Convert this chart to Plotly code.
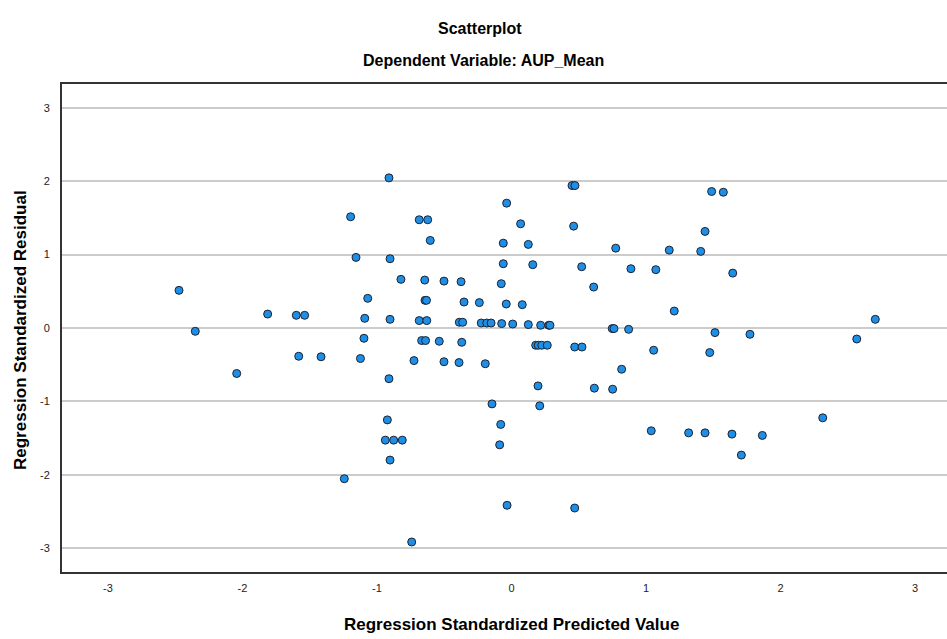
import plotly.graph_objects as go

# Regression standardized predicted values (x) and residuals (y)
pred = [-2.472, -2.351, -2.043, -1.813, -1.600, -1.538, -1.582, -1.416, -1.196, -1.156,
        -1.243, -1.123, -1.091, -1.097, -1.069, -0.911, -0.903, -0.903, -0.911, -0.822,
        -0.645, -0.502, -0.375, -0.686, -0.623, -0.604, -0.643, -0.632, -0.686, -0.630,
        -0.668, -0.639, -0.537, -0.725, -0.502, -0.390, -0.195, -0.388, -0.363, -0.353,
        -0.239, -0.370, -0.225, -0.184, -0.152, -0.073, 0.009, 0.125, 0.217, 0.277,
        0.286, -0.076, -0.039, 0.080, -0.061, -0.061, 0.125, 0.158, -0.036, 0.068,
        0.450, 0.472, 0.462, 0.522, 0.611, 0.775, 0.888, 1.073, 0.749, 0.762,
        0.871, 0.180, 0.199, 0.225, 0.266, 0.470, 0.524, 1.057, 0.819, 0.197,
        0.616, 0.752, -0.145, 0.210, -0.923, -0.938, -0.876, -0.812, -0.903, -0.080,
        -0.088, -0.033, 0.470, -0.742, 1.039, 1.488, 1.575, 1.439, 1.173, 1.407,
        1.645, 1.210, 2.705, 1.513, 1.773, 2.567, 1.474, 1.317, 1.439, 1.639,
        1.865, 1.709, 2.314]
resid = [0.513, -0.045, -0.620, 0.190, 0.173, 0.173, -0.385, -0.392, 1.516, 0.962,
         -2.054, -0.416, 0.132, -0.140, 0.404, 2.046, 0.944, 0.118, -0.691, 0.663,
         0.653, 0.639, 0.631, 1.475, 1.475, 1.193, 0.377, 0.377, 0.101, 0.101,
         -0.171, -0.171, -0.181, -0.444, -0.460, -0.471, -0.487, 0.078, 0.078, 0.354,
         0.346, -0.195, 0.068, 0.068, 0.068, 0.060, 0.054, 0.046, 0.037, 0.037,
         0.037, 0.604, 0.327, 0.318, 1.156, 0.876, 1.139, 0.863, 1.701, 1.420,
         1.941, 1.941, 1.388, 0.835, 0.558, 1.088, 0.808, 0.795, -0.008, -0.008,
         -0.018, -0.235, -0.235, -0.235, -0.235, -0.259, -0.259, -0.303, -0.562, -0.789,
         -0.820, -0.834, -1.034, -1.061, -1.252, -1.528, -1.528, -1.528, -1.800, -1.314,
         -1.592, -2.416, -2.453, -2.916, -1.401, 1.860, 1.850, 1.316, 1.061, 1.044,
         0.748, 0.231, 0.118, -0.063, -0.086, -0.150, -0.335, -1.429, -1.429, -1.446,
         -1.464, -1.732, -1.224]

tick_vals = [-3, -2, -1, 0, 1, 2, 3]
tick_text = ["-3", "-2", "-1", "0", "1", "2", "3"]

title_text = "Scatterplot"
subtitle_text = "Dependent Variable: AUP_Mean"
x_title = "Regression Standardized Predicted Value"
y_title = "Regression Standardized Residual"

W, H = 947, 639
L, R, T, B = 62, 0, 84, 67
PW, PH = W - L - R, H - T - B
FONT = "Liberation Sans, Arial, sans-serif"

fig = go.Figure()
fig.add_trace(go.Scatter(
    x=pred, y=resid, mode="markers",
    marker=dict(size=8, color="#1f8fe6", line=dict(color="#1b2233", width=1)),
    hoverinfo="x+y", showlegend=False,
))

fig.update_layout(
    width=W, height=H,
    margin=dict(l=L, r=R, t=T, b=B, pad=0),
    paper_bgcolor="white", plot_bgcolor="white",
    font=dict(family=FONT, color="#222222"),
    xaxis=dict(
        range=[-3.342, 3.238], tickvals=tick_vals, ticktext=tick_text,
        showgrid=False, zeroline=False, showline=True, linecolor="#333333",
        linewidth=2, mirror=True, ticks="", tickfont=dict(size=11, color="#222222"),
        ticklabelstandoff=5,
    ),
    yaxis=dict(
        range=[-3.325, 3.325], tickvals=tick_vals, ticktext=tick_text,
        showgrid=True, gridcolor="#cccccc", gridwidth=1.5,
        zeroline=False, showline=True, linecolor="#333333", linewidth=2,
        ticks="", tickfont=dict(size=11, color="#222222"), ticklabelstandoff=8,
    ),
)

def px_x(p):
    return (p - L) / PW

def px_y(p):
    return (H - B - p) / PH

anns = [
    dict(text=title_text, x=px_x(480), y=px_y(28), size=16),
    dict(text=subtitle_text, x=px_x(483), y=px_y(61), size=16),
    dict(text=x_title, x=px_x(511.5), y=px_y(624), size=17),
]
for a in anns:
    fig.add_annotation(
        text="<b>%s</b>" % a["text"], xref="paper", yref="paper",
        x=a["x"], y=a["y"], xanchor="center", yanchor="middle",
        showarrow=False, font=dict(size=a["size"], color="#000000", family=FONT),
    )
fig.add_annotation(
    text="<b>%s</b>" % y_title, xref="paper", yref="paper",
    x=px_x(20), y=px_y(330), xanchor="center", yanchor="middle", textangle=-90,
    showarrow=False, font=dict(size=17, color="#000000", family=FONT),
)

fig.write_html("out.html")
